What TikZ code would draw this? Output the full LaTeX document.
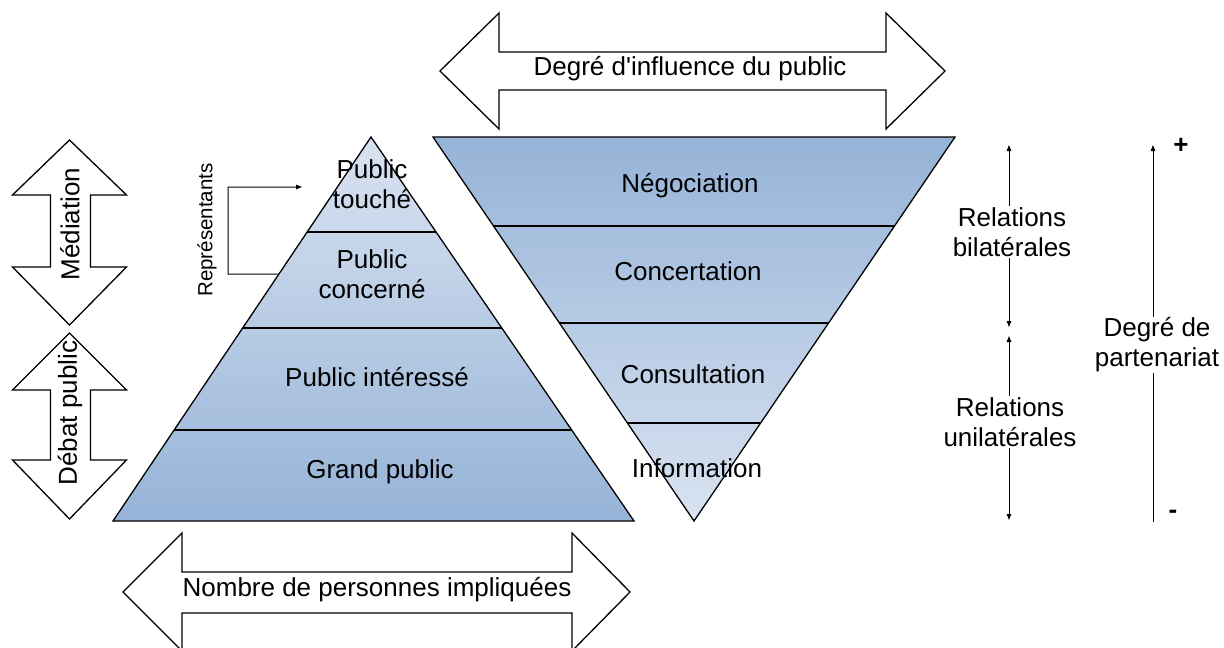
\documentclass[tikz,border=0pt]{standalone}
\usepackage{fontspec}
\setmainfont{Liberation Sans}[Ligatures=TeXOff]
\usetikzlibrary{arrows.meta,calc}
\definecolor{pyrLight}{HTML}{D9E3F1}
\definecolor{pyrDark}{HTML}{95B3D7}
\begin{document}
\begin{tikzpicture}[x=1pt,y=-1pt,line join=miter,
  lbl/.style={font=\fontsize{26}{30}\selectfont, align=center, inner sep=0pt},
  smalllbl/.style={font=\fontsize{20.5}{24}\selectfont, inner sep=0pt},
  outline/.style={draw=black, line width=1.3pt, fill=white},
  pyr/.style={draw=black, line width=1.3pt},
  sepline/.style={line width=1.3pt},
  thinarrow/.style={line width=1pt, {Triangle[length=6pt,width=4.5pt]}-{Triangle[length=6pt,width=4.5pt]}},
  onearrow/.style={line width=1pt, -{Triangle[length=6pt,width=4.5pt]}},
  gap/.style={fill=white, inner sep=1pt}]
\useasboundingbox (0,0) rectangle (1224,648);

% ---------- left pyramid ----------
\coordinate (LA) at (371,137);
\coordinate (LB) at (113,521);
\coordinate (LC) at (634,521);
\shadedraw[pyr, top color=pyrLight, bottom color=pyrDark] (LA) -- (LB) -- (LC) -- cycle;
\draw[sepline] ($(LA)!0.2474!(LB)$) -- ($(LA)!0.2474!(LC)$);
\draw[sepline] ($(LA)!0.4974!(LB)$) -- ($(LA)!0.4974!(LC)$);
\draw[sepline] ($(LA)!0.7630!(LB)$) -- ($(LA)!0.7630!(LC)$);
\node[lbl] (touche) at (372,184) {Public\\touché};
\node[lbl] (concerne) at (372,274) {Public\\concerné};
\node[lbl] (interesse) at (377,377) {Public intéressé};
\node[lbl] (grand) at (380,472) {Grand public};

% ---------- right inverted pyramid ----------
\coordinate (RA) at (433,137);
\coordinate (RB) at (955,137);
\coordinate (RC) at (694,521);
\shadedraw[pyr, top color=pyrDark, bottom color=pyrLight] (RA) -- (RB) -- (RC) -- cycle;
\draw[sepline] ($(RA)!0.2318!(RC)$) -- ($(RB)!0.2318!(RC)$);
\draw[sepline] ($(RA)!0.4844!(RC)$) -- ($(RB)!0.4844!(RC)$);
\draw[sepline] ($(RA)!0.7448!(RC)$) -- ($(RB)!0.7448!(RC)$);
\node[lbl] (nego) at (690,186) {Négociation};
\node[lbl] (concert) at (688,271) {Concertation};
\node[lbl] (consult) at (693,374) {Consultation};
\node[lbl] (info) at (697,468) {Information};

% ---------- top double arrow ----------
\draw[outline] (440,71) -- (499,13) -- (499,52) -- (886,52) -- (886,13) -- (945,71)
  -- (886,129) -- (886,90) -- (499,90) -- (499,129) -- cycle;
\node[lbl] (influence) at (690,69) {Degré d'influence du public};

% ---------- bottom double arrow ----------
\draw[outline] (123,592) -- (182,533) -- (182,572) -- (572,572) -- (572,533) -- (630,592)
  -- (572,651) -- (572,613) -- (182,613) -- (182,651) -- cycle;
\node[lbl] (nombre) at (377,590) {Nombre de personnes impliquées};

% ---------- left vertical double arrows ----------
\draw[outline] (69.5,140) -- (126.5,195) -- (90.5,195) -- (90.5,267) -- (126.5,267) -- (69.5,325)
  -- (12.5,267) -- (50.5,267) -- (50.5,195) -- (12.5,195) -- cycle;
\node[lbl, rotate=90] (mediation) at (70,224) {Médiation};
\draw[outline] (69.5,333) -- (126.5,390) -- (90.5,390) -- (90.5,460) -- (126.5,460) -- (69.5,519)
  -- (12.5,460) -- (50.5,460) -- (50.5,390) -- (12.5,390) -- cycle;
\node[lbl, rotate=90] (debat) at (70,413) {Débat public};

% ---------- Représentants bracket ----------
\node[smalllbl, rotate=90] (repr) at (207,230) {Représentants};
\coordinate (repTop) at (228,187);
\coordinate (repBot) at (228,274);
\coordinate (repEnd) at (302,187);
\coordinate (repStart) at ($(LA)!0.3568!(LB)$);
\draw[onearrow] (repStart) -- (repBot) -- (repTop) -- (repEnd);

% ---------- right side arrows ----------
\coordinate (biT) at (1009,145);
\coordinate (biB) at (1009,327);
\coordinate (uniT) at (1009,336);
\coordinate (uniB) at (1009,520);
\draw[thinarrow] (biT) -- (biB);
\draw[thinarrow] (uniT) -- (uniB);
\node[lbl, gap] (bilat) at (1012,232) {Relations\\bilatérales};
\node[lbl, gap] (unilat) at (1010,422) {Relations\\unilatérales};

\coordinate (partT) at (1153,145);
\coordinate (partB) at (1153,522);
\draw[onearrow] (partB) -- (partT);
\node[lbl, gap] (part) at (1157,345) {Degré de\\partenariat};
\node[lbl, font=\fontsize{26}{30}\selectfont\bfseries] (plus) at (1181,146) {+};
\node[lbl, font=\fontsize{26}{30}\selectfont\bfseries] (minus) at (1173,514) {-};
\end{tikzpicture}
\end{document}
